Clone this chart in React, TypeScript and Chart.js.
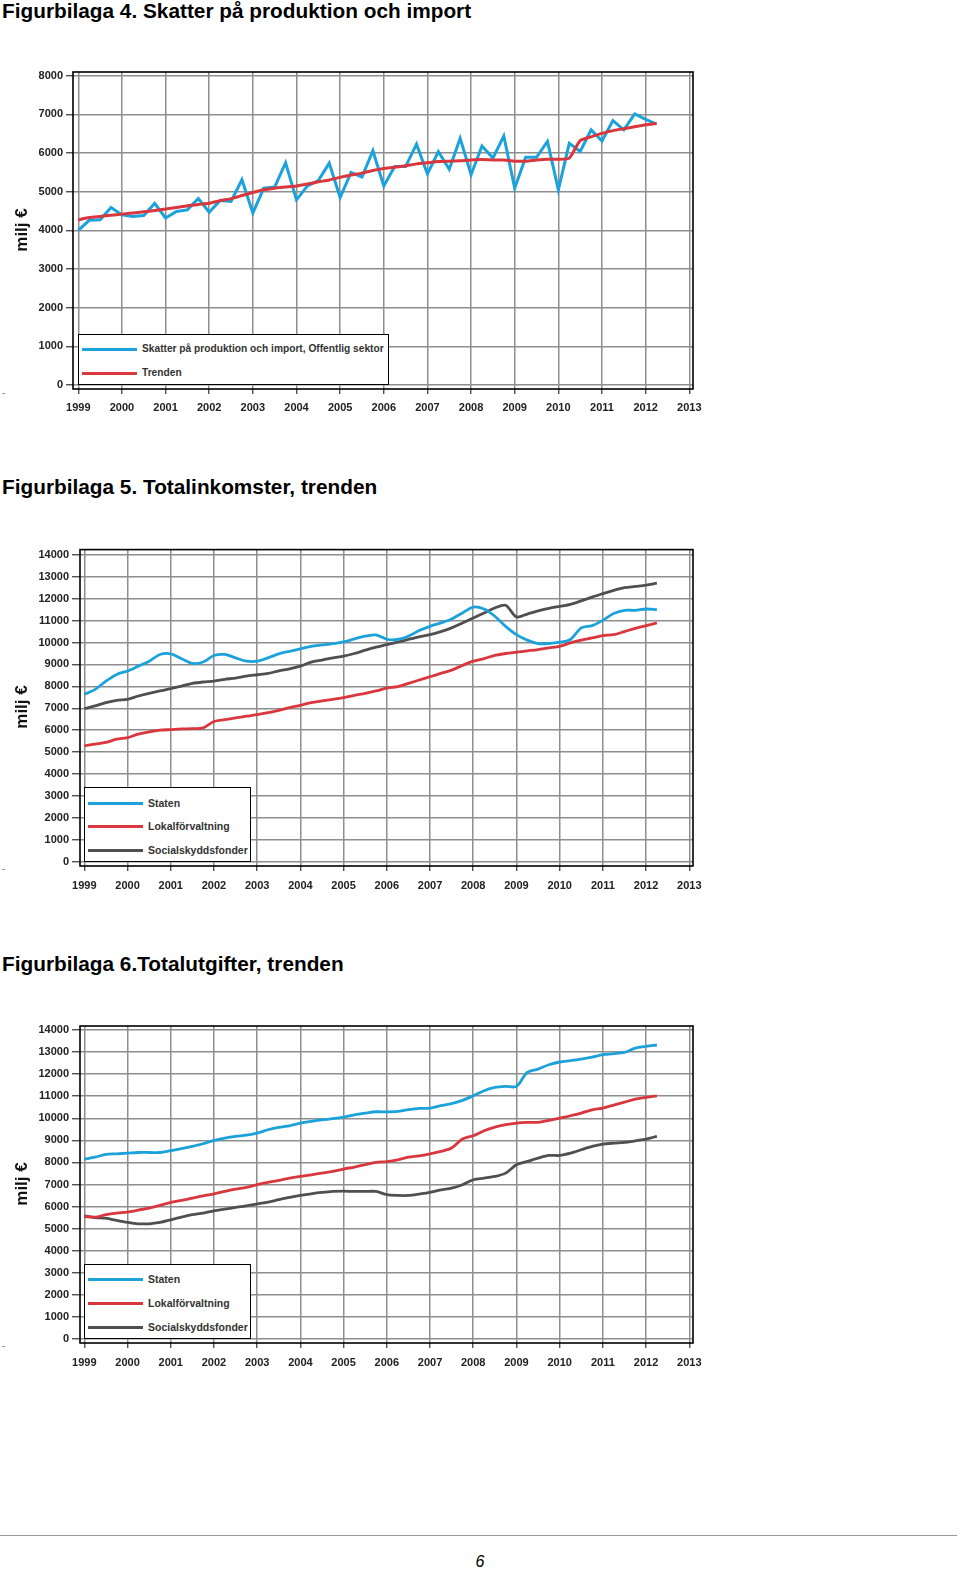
import React, { useEffect, useRef } from "react";
import { Chart, registerables } from "chart.js";

Chart.register(...registerables);

// ---------- data ----------
const years = [1999, 2000, 2001, 2002, 2003, 2004, 2005, 2006, 2007, 2008, 2009, 2010, 2011, 2012, 2013];
const yTicksTax = [0, 1000, 2000, 3000, 4000, 5000, 6000, 7000, 8000];
const yTicksTot = [0, 1000, 2000, 3000, 4000, 5000, 6000, 7000, 8000, 9000, 10000, 11000, 12000, 13000, 14000];

// quarters 1999K1 .. 2012K2
const quarterLabels: string[] = [];
for (let y = 1999; y <= 2012; y++) for (let q = 1; q <= 4; q++) quarterLabels.push(`${y}K${q}`);
quarterLabels.length = 54;
const quarterPos = quarterLabels.map((s) => Number(s.slice(0, 4)) + (Number(s.slice(5)) - 1) / 4);

const taxSeries = [
  4000, 4260, 4275, 4590, 4400, 4360, 4385, 4700, 4320, 4490, 4530, 4825,
  4470, 4775, 4750, 5310, 4450, 5090, 5120, 5750, 4790, 5150, 5290, 5740,
  4850, 5500, 5380, 6060, 5150, 5650, 5650, 6230, 5460, 6040, 5580, 6380,
  5440, 6180, 5870, 6440, 5090, 5890, 5890, 6300, 5050, 6250, 6040, 6600,
  6310, 6840, 6600, 7010, 6870, 6750,
];
const taxTrend = [
  4270, 4330, 4360, 4390, 4420, 4450, 4480, 4515, 4550, 4590, 4635, 4670,
  4700, 4770, 4820, 4900, 4980, 5050, 5090, 5120, 5150, 5200, 5255, 5305,
  5370, 5430, 5480, 5550, 5600, 5630, 5670, 5720, 5750, 5780, 5790, 5800,
  5820, 5830, 5820, 5820, 5790, 5790, 5820, 5840, 5840, 5870, 6320, 6420,
  6510, 6580, 6630, 6680, 6730, 6770,
];

const incStaten = [
  7636, 7864, 8240, 8545, 8700, 8924, 9150, 9455, 9485, 9260, 9045, 9110,
  9410, 9455, 9300, 9150, 9150, 9300, 9485, 9600, 9710, 9830, 9890, 9950,
  10030, 10165, 10290, 10350, 10150, 10140, 10290, 10545, 10740, 10895, 11075, 11350,
  11620, 11530, 11200, 10740, 10360, 10110, 9955, 9955, 10015, 10140, 10670, 10770,
  11015, 11320, 11470, 11470, 11530, 11500,
];
const incLokal = [
  5290, 5365, 5440, 5590, 5665, 5820, 5925, 6000, 6030, 6060, 6070, 6110,
  6400, 6480, 6560, 6640, 6710, 6800, 6910, 7030, 7135, 7255, 7335, 7410,
  7485, 7590, 7680, 7790, 7920, 7985, 8135, 8290, 8440, 8590, 8740, 8955,
  9150, 9270, 9410, 9500, 9560, 9620, 9680, 9760, 9830, 9985, 10110, 10210,
  10320, 10360, 10500, 10650, 10770, 10895,
];
const incSocial = [
  6985, 7110, 7260, 7365, 7410, 7560, 7680, 7790, 7895, 8015, 8135, 8200,
  8240, 8320, 8380, 8470, 8530, 8590, 8710, 8800, 8924, 9105, 9200, 9300,
  9380, 9500, 9650, 9790, 9900, 10015, 10140, 10260, 10360, 10500, 10670, 10895,
  11120, 11350, 11575, 11700, 11170, 11300, 11440, 11560, 11650, 11740, 11900, 12075,
  12230, 12380, 12500, 12560, 12620, 12710,
];

const expStaten = [
  8150, 8240, 8360, 8390, 8420, 8450, 8450, 8450, 8540, 8620, 8725, 8845,
  9000, 9100, 9180, 9240, 9330, 9480, 9590, 9660, 9780, 9860, 9930, 9980,
  10050, 10160, 10235, 10295, 10290, 10310, 10390, 10450, 10460, 10570, 10660, 10810,
  11020, 11250, 11400, 11445, 11445, 12080, 12230, 12425, 12550, 12610, 12680, 12770,
  12880, 12925, 12985, 13180, 13260, 13320,
];
const expLokal = [
  5550, 5520, 5630, 5700, 5750, 5840, 5930, 6050, 6190, 6280, 6385, 6490,
  6580, 6685, 6790, 6870, 6990, 7095, 7185, 7290, 7365, 7440, 7515, 7590,
  7700, 7790, 7895, 8000, 8040, 8120, 8240, 8300, 8390, 8500, 8650, 9060,
  9210, 9435, 9600, 9710, 9785, 9815, 9815, 9905, 10010, 10115, 10235, 10385,
  10460, 10600, 10730, 10870, 10945, 11020,
];
const expSocial = [
  5580, 5505, 5475, 5370, 5280, 5220, 5220, 5280, 5400, 5520, 5630, 5700,
  5810, 5885, 5960, 6035, 6125, 6200, 6310, 6415, 6505, 6580, 6640, 6685,
  6700, 6685, 6685, 6685, 6540, 6505, 6505, 6565, 6640, 6760, 6835, 6990,
  7215, 7290, 7365, 7515, 7895, 8045, 8195, 8315, 8315, 8420, 8575, 8725,
  8830, 8875, 8905, 8980, 9060, 9180,
];

const BLUE = "#1ca2db";
const RED = "#d9363e";
const GREY = "#4f4f4f";
const FONT = '"Liberation Sans", Arial, sans-serif';

const framePlugin = {
  id: "frame",
  beforeDatasetsDraw(chart: any) {
    const { ctx, chartArea: a } = chart;
    ctx.save();
    ctx.strokeStyle = "#000";
    ctx.lineWidth = 1.6;
    ctx.strokeRect(a.left, a.top, a.right - a.left, a.bottom - a.top);
    ctx.restore();
  },
};

type Cfg = {
  datasets: any[];
  yTicks: number[];
  xMin: number;
  xMax: number;
  yMin: number;
  yMax: number;
  yAxisW: number;
  xAxisH: number;
  padTop: number;
  padRight: number;
  yTickLen: number;
  xTickPad: number;
};

function makeConfig(c: Cfg): any {
  const tickFont = { family: FONT, size: 11, weight: "bold" as const };
  return {
    type: "line",
    data: { datasets: c.datasets },
    options: {
      animation: false,
      responsive: false,
      parsing: true,
      layout: { padding: { top: c.padTop, right: c.padRight, left: 0, bottom: 0 } },
      plugins: { legend: { display: false }, tooltip: { enabled: false } },
      elements: { point: { radius: 0 } },
      scales: {
        x: {
          type: "linear",
          bounds: "data",
          min: c.xMin,
          max: c.xMax,
          afterBuildTicks: (ax: any) => {
            ax.ticks = years.map((v) => ({ value: v }));
          },
          afterFit: (ax: any) => {
            ax.height = c.xAxisH;
          },
          ticks: {
            callback: (v: any) => String(v),
            font: tickFont,
            color: "#222",
            padding: c.xTickPad,
            maxRotation: 0,
            autoSkip: false,
          },
          grid: { color: "#8e8e8e", lineWidth: 1.5, tickLength: 5, tickColor: "#333", tickWidth: 1.2 },
          border: { display: false },
        },
        y: {
          type: "linear",
          bounds: "data",
          min: c.yMin,
          max: c.yMax,
          afterBuildTicks: (ax: any) => {
            ax.ticks = c.yTicks.map((v) => ({ value: v }));
          },
          afterFit: (ax: any) => {
            ax.width = c.yAxisW;
          },
          ticks: {
            callback: (v: any) => String(v),
            font: tickFont,
            color: "#222",
            padding: 3,
            autoSkip: false,
          },
          grid: { color: "#8e8e8e", lineWidth: 1.5, tickLength: c.yTickLen, tickColor: "#333", tickWidth: 1.2 },
          border: { display: false },
        },
      },
    },
    plugins: [framePlugin],
  };
}

function series(values: number[], color: string, width: number, tension: number, order: number) {
  return {
    data: quarterPos.map((x, i) => ({ x, y: values[i] })),
    borderColor: color,
    backgroundColor: color,
    borderWidth: width,
    pointRadius: 0,
    tension,
    fill: false,
    order,
  };
}

const titleStyle: React.CSSProperties = {
  position: "absolute",
  left: 2,
  fontFamily: FONT,
  fontWeight: "bold",
  fontSize: 20.8,
  lineHeight: "22px",
  color: "#000",
  whiteSpace: "nowrap",
};

function YLabel({ cy }: { cy: number }) {
  return (
    <div
      style={{
        position: "absolute",
        left: 22,
        top: cy,
        transform: "translate(-50%, -50%) rotate(-90deg)",
        fontFamily: FONT,
        fontWeight: "bold",
        fontSize: 17,
        color: "#111",
        whiteSpace: "nowrap",
        lineHeight: "20px",
      }}
    >
      milj €
    </div>
  );
}

function Legend({
  left,
  top,
  width,
  height,
  items,
  fontSize,
}: {
  left: number;
  top: number;
  width: number;
  height: number;
  items: { label: string; color: string; y: number }[];
  fontSize: number;
}) {
  return (
    <div
      style={{
        position: "absolute",
        left,
        top,
        width,
        height,
        border: "1.5px solid #000",
        boxSizing: "border-box",
        background: "#fff",
      }}
    >
      {items.map((it) => (
        <React.Fragment key={it.label}>
          <div
            style={{
              position: "absolute",
              left: 3,
              top: it.y - 1.5,
              width: 55,
              height: 3,
              background: it.color,
            }}
          />
          <div
            style={{
              position: "absolute",
              left: 63,
              top: it.y - 7,
              lineHeight: "14px",
              fontFamily: FONT,
              fontWeight: "bold",
              fontSize,
              color: "#333",
              whiteSpace: "nowrap",
            }}
          >
            {it.label}
          </div>
        </React.Fragment>
      ))}
    </div>
  );
}

export default function App() {
  const c1 = useRef<HTMLCanvasElement>(null);
  const c2 = useRef<HTMLCanvasElement>(null);
  const c3 = useRef<HTMLCanvasElement>(null);

  useEffect(() => {
    const charts: Chart[] = [];
    if (c1.current) {
      charts.push(
        new Chart(
          c1.current,
          makeConfig({
            datasets: [series(taxTrend, RED, 3, 0.2, 0), series(taxSeries, BLUE, 3, 0, 1)],
            yTicks: yTicksTax,
            xMin: 1998.879,
            xMax: 2013.085,
            yMin: -103,
            yMax: 8096,
            yAxisW: 73,
            xAxisH: 31,
            padTop: 12,
            padRight: 17,
            yTickLen: 7,
            xTickPad: 7,
          })
        )
      );
    }
    if (c2.current) {
      charts.push(
        new Chart(
          c2.current,
          makeConfig({
            datasets: [
              series(incStaten, BLUE, 2.8, 0.3, 0),
              series(incLokal, RED, 2.8, 0.3, 1),
              series(incSocial, GREY, 2.8, 0.3, 2),
            ],
            yTicks: yTicksTot,
            xMin: 1998.9,
            xMax: 2013.086,
            yMin: -195,
            yMax: 14240,
            yAxisW: 80,
            xAxisH: 34,
            padTop: 8,
            padRight: 17,
            yTickLen: 8,
            xTickPad: 8,
          })
        )
      );
    }
    if (c3.current) {
      charts.push(
        new Chart(
          c3.current,
          makeConfig({
            datasets: [
              series(expStaten, BLUE, 2.8, 0.3, 0),
              series(expLokal, RED, 2.8, 0.3, 1),
              series(expSocial, GREY, 2.8, 0.3, 2),
            ],
            yTicks: yTicksTot,
            xMin: 1998.9,
            xMax: 2013.086,
            yMin: -181,
            yMax: 14181,
            yAxisW: 80,
            xAxisH: 32,
            padTop: 11,
            padRight: 17,
            yTickLen: 8,
            xTickPad: 8,
          })
        )
      );
    }
    return () => charts.forEach((ch) => ch.destroy());
  }, []);

  const legend3 = (top: number, ys: number[]) => (
    <Legend
      left={84}
      top={top}
      width={167}
      height={75}
      fontSize={10.5}
      items={[
        { label: "Staten", color: BLUE, y: ys[0] },
        { label: "Lokalförvaltning", color: RED, y: ys[1] },
        { label: "Socialskyddsfonder", color: GREY, y: ys[2] },
      ]}
    />
  );

  return (
    <div
      style={{
        position: "absolute",
        left: 0,
        top: 0,
        width: 960,
        height: 1572,
        background: "#fff",
        overflow: "hidden",
      }}
    >
      <div style={{ ...titleStyle, top: 0 }}>Figurbilaga 4. Skatter på produktion och import</div>
      <div style={{ ...titleStyle, top: 476 }}>Figurbilaga 5. Totalinkomster, trenden</div>
      <div style={{ ...titleStyle, top: 953 }}>Figurbilaga 6.Totalutgifter, trenden</div>

      <canvas ref={c1} width={710} height={360} style={{ position: "absolute", left: 0, top: 60, width: 710, height: 360 }} />
      <canvas ref={c2} width={710} height={360} style={{ position: "absolute", left: 0, top: 540, width: 710, height: 360 }} />
      <canvas ref={c3} width={710} height={360} style={{ position: "absolute", left: 0, top: 1015, width: 710, height: 360 }} />

      <YLabel cy={230} />
      <YLabel cy={707} />
      <YLabel cy={1184} />

      <Legend
        left={78}
        top={334}
        width={311}
        height={51}
        fontSize={10.2}
        items={[
          { label: "Skatter på produktion och import, Offentlig sektor", color: BLUE, y: 14 },
          { label: "Trenden", color: RED, y: 38 },
        ]}
      />
      {legend3(787, [15, 38, 62])}
      {legend3(1264, [14, 38, 62])}

      <div style={{ position: "absolute", left: 2, top: 393, width: 3, height: 1, background: "#999" }} />
      <div style={{ position: "absolute", left: 2, top: 869, width: 3, height: 1, background: "#999" }} />
      <div style={{ position: "absolute", left: 2, top: 1346, width: 3, height: 1, background: "#999" }} />

      <div style={{ position: "absolute", left: 0, top: 1535, width: 957, height: 1, background: "#9a9a9a" }} />
      <div
        style={{
          position: "absolute",
          left: 470,
          top: 1553,
          width: 20,
          textAlign: "center",
          fontFamily: FONT,
          fontStyle: "italic",
          fontSize: 16,
          lineHeight: "18px",
          color: "#000",
        }}
      >
        6
      </div>
    </div>
  );
}
